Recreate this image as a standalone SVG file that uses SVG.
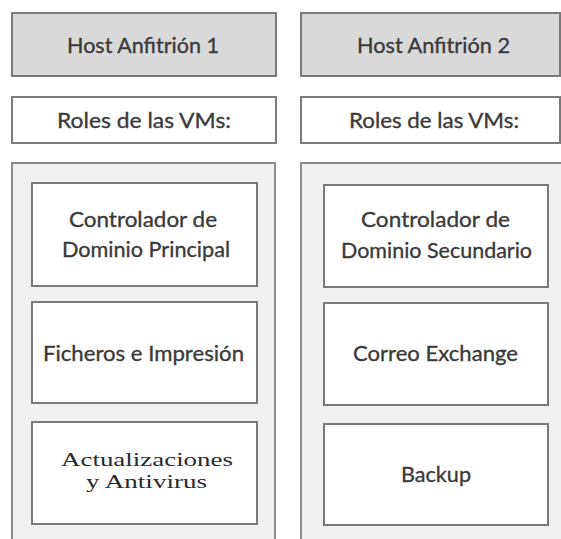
<svg xmlns="http://www.w3.org/2000/svg" width="561" height="539" viewBox="0 0 561 539">
  <style>
    .host { fill: #d9d9d9; stroke: #7a7a7a; stroke-width: 2; }
    .label { fill: #ffffff; stroke: #7a7a7a; stroke-width: 2; }
    .panel { fill: #f0f0f0; stroke: #8a8a8a; stroke-width: 2; }
    .vm { fill: #ffffff; stroke: #7a7a7a; stroke-width: 2; }
    .t { font-family: Lato, "Liberation Sans", sans-serif; font-size: 22px; fill: #3a3a3a; stroke: #3a3a3a; stroke-width: 0.35; text-anchor: middle; }
    .ts { font-family: "Liberation Serif", "Times New Roman", serif; font-size: 19px; fill: #2a2a2a; text-anchor: middle; }
  </style>
  <rect width="561" height="539" fill="#ffffff"/>

  <!-- Host 1 column -->
  <g id="host1">
    <rect class="host" x="12" y="13" width="264" height="63"/>
    <text class="t" x="143" y="53" textLength="152" lengthAdjust="spacingAndGlyphs">Host Anfitrión 1</text>
  </g>
  <g id="roles1">
    <rect class="label" x="12" y="97" width="264" height="46"/>
    <text class="t" x="144" y="128" textLength="174" lengthAdjust="spacingAndGlyphs">Roles de las VMs:</text>
  </g>
  <g id="panel1">
    <rect class="panel" x="12" y="163" width="263" height="390"/>
  </g>
  <g id="vm-dc1">
    <rect class="vm" x="32" y="183" width="225" height="103"/>
    <text class="t" x="143" y="227" textLength="148" lengthAdjust="spacingAndGlyphs">Controlador de</text>
    <text class="t" x="146" y="257" textLength="168" lengthAdjust="spacingAndGlyphs">Dominio Principal</text>
  </g>
  <g id="vm-files">
    <rect class="vm" x="32" y="302" width="225" height="101"/>
    <text class="t" x="143.5" y="361" textLength="201" lengthAdjust="spacingAndGlyphs">Ficheros e Impresión</text>
  </g>
  <g id="vm-updates">
    <rect class="vm" x="32" y="422" width="225" height="102"/>
    <text class="ts" x="147" y="466" textLength="172" lengthAdjust="spacingAndGlyphs">Actualizaciones</text>
    <text class="ts" x="146.5" y="488" textLength="121" lengthAdjust="spacingAndGlyphs">y Antivirus</text>
  </g>

  <!-- Host 2 column -->
  <g id="host2">
    <rect class="host" x="301" y="13" width="259" height="63"/>
    <text class="t" x="433.5" y="53" textLength="153" lengthAdjust="spacingAndGlyphs">Host Anfitrión 2</text>
  </g>
  <g id="roles2">
    <rect class="label" x="301" y="97" width="259" height="46"/>
    <text class="t" x="434" y="128" textLength="170" lengthAdjust="spacingAndGlyphs">Roles de las VMs:</text>
  </g>
  <g id="panel2">
    <rect class="panel" x="301" y="163" width="280" height="390"/>
  </g>
  <g id="vm-dc2">
    <rect class="vm" x="324" y="185" width="224" height="102"/>
    <text class="t" x="435.5" y="227" textLength="149" lengthAdjust="spacingAndGlyphs">Controlador de</text>
    <text class="t" x="436.5" y="258" textLength="191" lengthAdjust="spacingAndGlyphs">Dominio Secundario</text>
  </g>
  <g id="vm-mail">
    <rect class="vm" x="324" y="303" width="224" height="102"/>
    <text class="t" x="435.5" y="361" textLength="165" lengthAdjust="spacingAndGlyphs">Correo Exchange</text>
  </g>
  <g id="vm-backup">
    <rect class="vm" x="324" y="424" width="224" height="101"/>
    <text class="t" x="436" y="482" textLength="70" lengthAdjust="spacingAndGlyphs">Backup</text>
  </g>

  <g id="connectors"/>
</svg>
